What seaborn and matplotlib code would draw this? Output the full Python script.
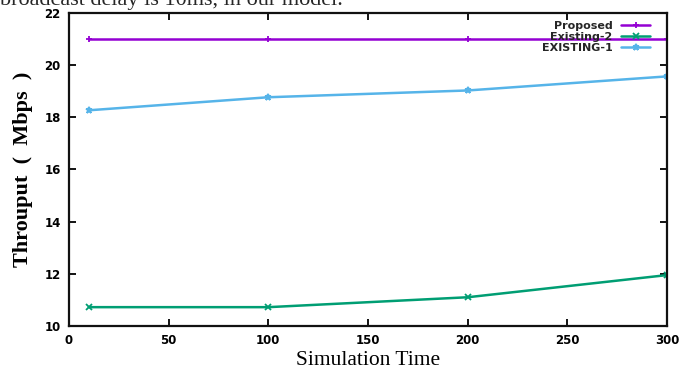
import seaborn as sns
import matplotlib.pyplot as plt
import pandas as pd

sim_time = [10, 100, 200, 300]
proposed = [21.0, 21.0, 21.0, 21.0]
existing_2 = [10.72, 10.72, 11.1, 11.95]
existing_1 = [18.27, 18.77, 19.03, 19.57]

series = ['Proposed', 'Existing-2', 'EXISTING-1']
colors = ['#9400d3', '#009e73', '#56b4e9']
markers = ['+', 'x', '*']

sns.set_style('ticks')
plt.rcParams['font.family'] = ['DejaVu Sans']

fig = plt.figure(figsize=(6.88, 3.83), dpi=100)
ax = fig.add_axes([0.1003, 0.149, 0.8692, 0.817])

for name, vals, c, m in zip(series, [proposed, existing_2, existing_1], colors, markers):
    df = pd.DataFrame({'time': sim_time, 'throughput': vals})
    sns.lineplot(df, x='time', y='throughput', color=c, marker=m, label=name,
                 linewidth=1.8, markersize=5, markeredgewidth=1.3,
                 markeredgecolor=c, ax=ax)

ax.set_xlim(0, 300)
ax.set_ylim(10, 22)
ax.set_xticks(range(0, 301, 50))
ax.set_yticks(range(10, 23, 2))
ax.tick_params(direction='in', top=True, right=True, length=5, width=1.3,
               labelsize=8.5, pad=6, colors='black')
for lbl in ax.get_xticklabels() + ax.get_yticklabels():
    lbl.set_fontweight('bold')
for s in ax.spines.values():
    s.set_linewidth(1.6)
    s.set_color('#111111')

ax.set_xlabel('Simulation Time', family='Liberation Serif', fontsize=15.5,
              labelpad=3, color='black')
ax.set_ylabel('Throuput  (  Mbps  )', family='Liberation Serif', fontsize=16,
              fontweight='bold', labelpad=8, color='black')

leg = ax.legend(loc='upper right', frameon=False, markerfirst=False,
                prop={'weight': 'bold', 'size': 8}, handlelength=2.6,
                labelspacing=0.1, borderaxespad=0.3,
                bbox_to_anchor=(0.985, 1.0))

fig.text(0.0, 1.0, 'broadcast delay is 10ms, in our model.',
         family='Liberation Serif', fontsize=16, va='center', ha='left')

fig.savefig('out.png', dpi=100)
